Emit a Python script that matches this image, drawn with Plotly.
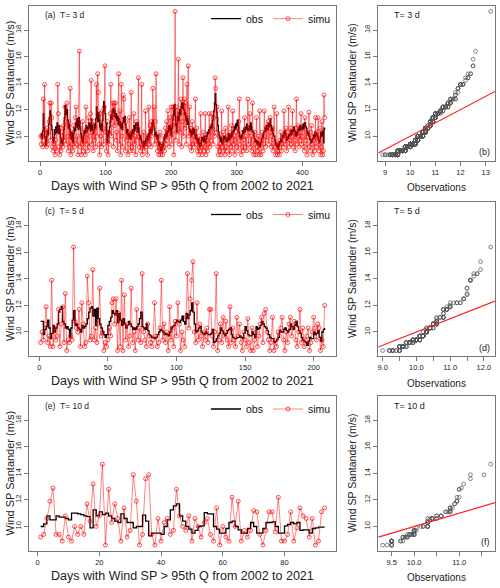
import numpy as np
import plotly.graph_objects as go

# ---------------- data (m/s) ----------------
obs_a = [
 10.0, 10.2, 9.8, 10.4, 11.7, 10.6, 9.9, 9.3, 9.6, 10.0, 10.4, 10.1, 10.9, 11.4, 11.9, 11.6, 10.8, 10.5, 9.9, 9.5,
 9.8, 10.5, 10.2, 10.7, 10.3, 11.0, 10.6, 10.2, 10.8, 10.4, 9.9, 9.5, 9.7, 9.4, 9.8, 10.5, 11.4, 12.3, 12.1, 11.6,
 12.0, 11.2, 10.6, 10.9, 10.5, 10.1, 9.8, 10.3, 9.7, 9.5, 10.2, 10.6, 10.4, 11.0, 10.7, 11.3, 10.8, 10.5, 11.4, 11.1,
 10.6, 10.2, 9.9, 9.6, 9.5, 10.0, 10.4, 10.2, 10.6, 10.8, 10.3, 10.7, 10.5, 11.0, 10.6, 10.9, 10.4, 11.3, 10.8, 10.5,
 10.2, 10.5, 10.9, 10.6, 11.3, 12.2, 11.6, 11.1, 11.8, 11.2, 10.7, 10.5, 10.9, 10.4, 11.2, 11.9, 12.6, 12.3, 11.7, 11.0,
 10.2, 9.5, 9.9, 10.4, 10.2, 10.7, 11.1, 11.6, 11.3, 12.0, 11.8, 12.1, 11.5, 11.9, 11.4, 11.7, 11.2, 11.5, 10.9, 11.3,
 10.8, 11.1, 10.6, 10.9, 10.5, 11.0, 11.4, 11.1, 11.5, 10.9, 10.6, 10.2, 10.5, 10.0, 10.2, 9.8, 10.1, 9.8, 10.3, 10.0,
 10.5, 10.2, 10.8, 10.4, 10.6, 11.0, 10.7, 10.3, 11.0, 10.6, 10.1, 9.8, 10.0, 9.7, 9.5, 9.4, 9.2, 9.6, 9.3, 9.5,
 9.8, 9.5, 10.0, 9.7, 10.2, 9.9, 10.5, 10.2, 10.6, 10.3, 11.0, 11.2, 10.8, 10.5, 10.0, 10.3, 10.0, 9.8, 10.1, 9.6,
 9.3, 9.5, 9.1, 8.9, 9.0, 9.4, 9.2, 9.6, 9.8, 10.1, 9.9, 10.3, 10.0, 10.4, 10.3, 10.8, 10.5, 10.8, 10.2, 10.0,
 10.6, 11.2, 11.6, 12.3, 12.4, 11.5, 10.8, 10.3, 10.9, 11.5, 11.2, 11.8, 12.0, 11.6, 12.2, 12.5, 12.1, 12.5, 12.0, 11.6,
 11.8, 11.2, 11.5, 10.9, 11.3, 11.0, 10.6, 10.3, 10.5, 10.0, 10.4, 10.1, 10.6, 10.2, 10.5, 10.0, 9.8, 10.1, 9.7, 9.5,
 9.8, 9.4, 9.2, 9.5, 9.3, 9.7, 9.9, 9.8, 9.6, 10.0, 9.7, 9.5, 9.8, 10.0, 10.3, 10.2, 10.5, 10.3, 10.7, 10.6,
 10.9, 10.6, 11.2, 11.5, 11.9, 12.5, 13.2, 12.4, 11.8, 11.4, 10.8, 10.3, 10.0, 9.8, 9.6, 9.9, 9.5, 9.4, 9.7, 10.0,
 9.8, 10.0, 9.6, 9.8, 9.6, 9.9, 10.2, 9.7, 9.8, 10.1, 9.9, 10.3, 10.0, 10.4, 10.3, 10.7, 10.5, 10.9, 10.6, 11.0,
 11.2, 10.8, 10.3, 10.0, 9.8, 9.8, 10.1, 9.9, 10.4, 10.2, 10.6, 10.3, 10.7, 10.5, 10.9, 10.6, 10.4, 10.4, 10.8, 10.5,
 11.0, 10.7, 10.4, 10.3, 10.3, 10.0, 9.8, 9.6, 9.7, 9.5, 9.4, 9.6, 9.3, 9.5, 9.2, 9.5, 9.6, 9.8, 10.1, 9.9,
 10.3, 10.3, 10.6, 10.4, 10.8, 10.8, 10.5, 11.0, 10.7, 11.0, 11.3, 10.8, 10.4, 10.6, 10.2, 10.0, 10.0, 9.7, 9.5, 9.3,
 9.2, 9.4, 9.0, 9.3, 9.6, 9.5, 9.8, 9.6, 10.0, 10.1, 9.9, 10.3, 10.4, 10.2, 10.0, 9.7, 9.9, 9.8, 10.1, 10.0,
 10.2, 10.4, 10.1, 10.5, 10.3, 10.5, 10.7, 10.4, 10.0, 10.0, 10.3, 10.1, 10.5, 10.6, 10.4, 10.8, 10.8, 10.5, 10.7, 10.5,
 10.9, 10.6, 11.0, 11.0, 10.7, 10.6, 10.3, 10.1, 10.3, 10.0, 9.8, 9.7, 9.5, 9.6, 9.8, 9.8, 10.1, 9.9, 10.3, 10.3,
 10.0, 10.2, 10.0, 9.7, 9.5, 9.6, 9.9, 10.3, 10.0, 10.2, 10.4, 9.5, 10.6, 10.5,
]
simu_a = [
 10.0, 9.4, 10.0, 9.2, 12.8, 10.3, 13.9, 9.4, 10.0, 9.2, 10.6, 9.4, 10.3, 11.1, 12.5, 9.7, 12.5, 11.4, 9.2, 8.9,
 9.4, 10.0, 8.6, 9.7, 8.9, 10.3, 13.9, 11.7, 9.2, 8.6, 10.6, 8.9, 9.4, 10.3, 9.2, 10.8, 9.7, 12.2, 11.1, 9.4,
 12.5, 10.0, 8.9, 11.1, 9.2, 13.6, 8.6, 10.3, 9.4, 8.9, 10.8, 9.7, 9.2, 11.4, 12.2, 9.4, 10.0, 8.6, 11.1, 16.4,
 9.2, 10.6, 8.6, 9.4, 11.1, 8.9, 10.0, 9.7, 8.6, 12.2, 9.4, 10.6, 8.9, 11.4, 9.2, 10.0, 11.7, 14.2, 9.4, 10.3,
 8.9, 11.1, 9.7, 10.6, 9.2, 13.9, 10.0, 14.7, 13.3, 9.4, 8.6, 11.7, 10.0, 9.2, 11.9, 10.6, 9.4, 12.2, 15.3, 10.3,
 8.9, 9.7, 11.1, 8.6, 10.3, 9.4, 11.7, 13.9, 10.0, 11.4, 12.5, 9.2, 12.5, 10.8, 12.5, 9.7, 10.3, 8.9, 11.1, 14.7,
 9.4, 11.9, 8.6, 13.9, 10.0, 9.2, 13.1, 12.8, 10.6, 8.9, 11.1, 9.7, 10.3, 8.6, 9.4, 11.4, 10.0, 8.9, 13.3, 9.2,
 10.3, 8.9, 11.7, 9.4, 10.0, 8.6, 11.1, 9.7, 10.6, 14.4, 9.2, 10.0, 8.9, 9.4, 13.9, 8.6, 9.2, 10.3, 8.9, 9.4,
 11.9, 9.2, 10.0, 8.6, 9.7, 12.2, 9.4, 10.8, 9.2, 11.1, 10.0, 13.6, 10.6, 12.2, 9.4, 11.1, 14.7, 9.7, 8.9, 10.0,
 8.6, 9.2, 10.3, 8.6, 8.9, 9.4, 8.6, 10.0, 9.2, 8.9, 10.6, 9.4, 11.1, 9.7, 11.9, 10.3, 9.2, 11.4, 10.0, 12.2,
 9.4, 10.8, 12.2, 8.6, 11.1, 19.4, 9.7, 10.3, 12.2, 10.6, 15.8, 9.4, 11.7, 10.3, 12.8, 9.2, 11.1, 14.4, 10.0, 12.8,
 10.6, 12.5, 9.4, 13.9, 11.4, 15.3, 10.0, 12.2, 9.2, 10.6, 8.9, 11.1, 9.4, 10.0, 9.2, 10.3, 12.8, 9.4, 10.6, 8.9,
 9.7, 8.6, 10.0, 8.9, 11.7, 9.2, 8.6, 9.4, 10.3, 8.9, 9.2, 11.7, 8.6, 9.7, 10.0, 8.9, 9.4, 11.7, 9.2, 10.3,
 9.7, 11.7, 10.6, 9.4, 11.4, 10.0, 14.4, 13.6, 10.3, 12.2, 9.2, 8.6, 10.0, 8.9, 9.4, 8.6, 11.9, 9.2, 10.3, 8.9,
 9.7, 8.6, 10.6, 9.2, 8.9, 10.0, 12.2, 9.4, 8.6, 10.3, 9.2, 10.8, 8.9, 11.9, 9.4, 10.0, 8.6, 9.7, 10.3, 9.2,
 10.6, 8.9, 11.1, 12.8, 9.4, 10.0, 8.6, 9.2, 10.3, 8.9, 9.7, 11.4, 9.2, 10.0, 8.9, 10.6, 12.8, 9.4, 10.3, 11.7,
 9.2, 10.0, 8.9, 12.5, 9.7, 8.6, 10.3, 9.4, 8.6, 11.4, 9.2, 8.9, 10.0, 8.6, 11.9, 9.4, 8.6, 9.7, 10.3, 8.9,
 9.4, 11.9, 10.0, 9.2, 10.6, 9.7, 10.8, 11.1, 9.4, 10.3, 11.4, 10.0, 9.2, 10.6, 8.9, 9.7, 12.2, 9.2, 8.6, 9.4,
 11.7, 8.6, 8.9, 9.4, 8.6, 9.7, 10.3, 8.9, 9.4, 10.0, 9.2, 11.9, 10.0, 9.4, 10.6, 8.9, 9.7, 10.3, 12.2, 9.2,
 9.7, 10.6, 9.4, 10.0, 11.9, 9.2, 10.3, 9.7, 8.9, 10.6, 12.8, 9.4, 10.0, 10.8, 9.2, 10.3, 9.7, 11.7, 9.4, 10.0,
 10.6, 9.2, 8.9, 11.4, 9.7, 10.3, 8.6, 9.4, 10.0, 11.8, 9.2, 8.9, 10.3, 10.8, 9.4, 8.6, 9.7, 10.0, 8.9, 11.4,
 9.2, 10.3, 9.7, 11.4, 8.9, 9.4, 10.6, 8.6, 9.2, 11.1, 8.6, 8.9, 13.1, 11.4,
]
obs_c = [
 10.8, 10.8, 9.8, 10.2, 10.4, 10.9, 10.3, 9.5, 9.9, 10.5, 10.0, 10.3, 10.6, 11.5, 11.7, 11.9, 10.8, 10.6, 10.3, 10.4,
 10.2, 9.6, 10.3, 10.9, 11.6, 10.5, 10.6, 10.3, 10.2, 10.0, 10.5, 10.3, 10.4, 10.6, 11.0, 11.5, 11.8, 11.9, 11.2, 11.7,
 10.5, 11.8, 11.0, 10.6, 10.3, 10.0, 9.8, 9.6, 9.8, 10.5, 10.8, 11.1, 11.6, 11.4, 11.3, 11.6, 10.7, 11.4, 10.9, 10.5,
 11.0, 10.6, 10.3, 10.5, 10.8, 10.6, 10.4, 10.2, 10.3, 10.2, 10.4, 10.6, 11.0, 11.5, 10.4, 10.3, 10.2, 10.6, 10.1, 9.8,
 9.7, 9.6, 9.6, 9.5, 9.6, 9.8, 10.0, 10.2, 10.1, 10.0, 9.8, 9.9, 9.8, 9.7, 10.0, 10.3, 10.4, 10.5, 10.7, 10.9,
 10.8, 10.7, 10.9, 11.2, 10.8, 10.6, 11.4, 11.0, 11.3, 11.6, 12.2, 11.5, 10.6, 10.0, 10.1, 10.3, 10.4, 10.0, 9.9, 9.8,
 10.0, 9.9, 9.8, 9.8, 9.9, 10.2, 9.2, 9.3, 9.5, 9.7, 9.9, 10.3, 10.1, 9.9, 9.7, 9.9, 10.1, 10.2, 10.3, 9.8,
 9.6, 9.5, 9.5, 9.6, 9.6, 9.7, 9.6, 9.5, 9.9, 10.4, 10.1, 9.8, 9.7, 9.7, 10.0, 9.8, 9.6, 10.4, 10.2, 10.3,
 10.5, 10.8, 10.6, 10.4, 10.3, 10.1, 9.8, 9.6, 9.5, 9.5, 9.2, 9.3, 9.4, 9.6, 10.1, 10.0, 10.0, 10.2, 10.3, 10.1,
 10.0, 10.2, 10.6, 10.4, 10.2, 10.5, 10.8, 10.4, 10.1, 9.9, 9.6, 9.4, 9.3, 9.2, 9.0, 9.3, 9.6, 9.5, 9.5, 10.0,
 9.8, 9.9, 10.1, 9.6, 9.3, 10.0, 10.2, 10.3,
]
simu_c = [
 9.2, 10.0, 9.4, 10.6, 11.9, 9.2, 9.7, 8.9, 13.9, 8.9, 10.3, 9.4, 9.7, 11.7, 8.9, 10.6, 11.9, 9.2, 12.9, 8.6,
 9.4, 9.2, 9.7, 9.4, 16.4, 10.8, 10.3, 10.0, 11.7, 8.9, 12.2, 10.6, 8.9, 9.2, 14.2, 12.2, 9.4, 9.7, 14.7, 9.4,
 10.3, 9.2, 10.6, 13.3, 9.7, 10.0, 8.6, 9.2, 8.9, 9.4, 10.3, 9.7, 12.2, 12.5, 10.6, 12.5, 8.6, 11.4, 8.9, 13.9,
 8.6, 12.8, 9.4, 10.6, 8.9, 9.7, 13.3, 9.2, 10.0, 8.6, 11.7, 9.4, 10.3, 9.2, 14.4, 10.0, 9.4, 8.9, 10.6, 9.7,
 9.2, 8.9, 9.4, 12.2, 9.7, 8.9, 9.2, 10.3, 13.9, 9.4, 10.6, 9.2, 10.0, 8.6, 11.9, 9.4, 10.3, 8.9, 10.8, 9.7,
 12.2, 10.6, 8.6, 10.0, 9.4, 8.9, 11.1, 14.4, 10.3, 12.5, 13.9, 15.3, 10.0, 9.2, 12.2, 9.4, 10.6, 9.7, 8.9, 10.0,
 9.4, 10.3, 9.2, 11.7, 11.7, 9.7, 8.9, 10.0, 14.4, 8.6, 9.4, 10.6, 9.2, 11.1, 9.7, 10.8, 9.4, 8.9, 11.9, 9.2,
 10.3, 9.4, 8.9, 11.1, 9.7, 10.6, 9.2, 8.6, 10.0, 9.4, 8.9, 11.0, 9.2, 8.6, 10.3, 8.6, 9.4, 10.0, 8.9, 9.7,
 10.6, 11.1, 9.2, 11.4, 11.7, 10.0, 9.4, 8.6, 9.2, 11.1, 8.6, 9.4, 8.9, 10.0, 9.7, 10.3, 11.1, 9.4, 8.6, 10.0,
 9.2, 10.6, 11.1, 9.7, 10.3, 10.8, 9.4, 8.9, 10.0, 11.7, 9.2, 10.3, 8.9, 9.4, 9.7, 10.3, 8.6, 9.2, 10.0, 11.1,
 10.3, 9.4, 10.6, 10.3, 8.6, 9.4, 8.9, 12.0,
]
obs_e = [
 10.0, 10.2, 10.8, 10.5, 10.5, 10.8, 10.7, 10.7, 10.6, 10.5,
 11.0, 11.0, 10.95, 10.9, 10.8, 10.75, 9.9, 11.25, 10.8, 11.1,
 10.9, 11.0, 10.8, 10.6, 10.4, 10.3, 10.95, 10.6, 10.3, 10.3,
 9.9, 10.0, 10.0, 10.85, 10.4, 9.3, 9.5, 9.5, 9.5, 9.4,
 10.0, 10.5, 11.25, 11.55, 11.7, 10.8, 10.4, 10.0, 9.8, 9.5,
 9.7, 10.0, 10.05, 11.05, 10.95, 10.95, 10.0, 9.8, 9.5, 9.5,
 9.85, 10.3, 10.4, 10.0, 9.75, 9.5, 9.5, 9.85, 10.3, 10.0,
 9.5, 9.5, 9.85, 10.3, 10.3, 10.35, 10.0, 9.5, 9.5, 10.05,
 10.15, 10.3, 10.2, 10.3, 9.7, 9.75, 9.75, 9.5, 9.85, 9.9,
 9.95, 9.95, 9.95,
]
simu_e = [
 9.2, 9.4, 10.6, 11.9, 12.9, 9.4, 9.4, 8.9, 10.8, 9.2,
 8.9, 10.0, 9.4, 10.0, 9.4, 11.7, 10.4, 13.2, 10.0, 10.8,
 14.7, 8.6, 12.8, 10.3, 11.7, 10.6, 8.9, 11.4, 9.2, 9.7,
 13.9, 11.9, 8.6, 9.4, 13.6, 13.9, 9.4, 8.6, 10.6, 8.9,
 10.3, 10.6, 9.4, 9.7, 12.8, 10.8, 10.0, 9.7, 10.8, 8.9,
 10.6, 10.0, 9.2, 10.3, 10.6, 9.4, 8.9, 11.4, 8.6, 10.0,
 9.2, 8.9, 12.2, 10.0, 11.9, 8.9, 9.7, 9.2, 9.7, 11.2,
 11.1, 9.4, 8.6, 9.7, 11.1, 11.1, 9.6, 12.2, 8.9, 8.9,
 9.4, 11.1, 8.9, 9.9, 11.4, 10.8, 10.6, 9.2, 10.6, 8.6,
 8.9, 11.1, 11.4,
]

obs_series = [obs_a, obs_c, obs_e]
simu_series = [simu_a, simu_c, simu_e]
left_tags = ["(a)", "(c)", "(e)"]
right_tags = ["(b)", "(d)", "(f)"]
durations = ["T= 3 d", "T= 5 d", "T= 10 d"]
x_title = "Days with Wind SP > 95th Q from 2002 to 2021"
y_title = "Wind SP Santander (m/s)"
qq_title = "Observations"
y_tick_vals = [10, 12, 14, 16, 18]
left_dticks = [100, 50, 20]
right_tick_vals = [[9, 10, 11, 12, 13],
                   [9.0, 9.5, 10.0, 10.5, 11.0, 11.5, 12.0],
                   [9.5, 10.0, 10.5, 11.0, 11.5]]
right_tick_text = [["9", "10", "11", "12", "13"],
                   ["9.0", "", "10.0", "", "11.0", "", "12.0"],
                   ["9.5", "10.0", "", "11.0", ""]]

for o, s in zip(obs_series, simu_series):
    assert len(o) == len(s), (len(o), len(s))

# ---------------- layout geometry (pixels) ----------------
W, H = 500, 588
row_top = [5.7, 201.5, 396.0]
row_h = 154.8
left_x = (29.3, 336.0)
right_x = (378.3, 495.0)
FONT = "Liberation Sans, Arial, sans-serif"
BOX = "#777777"

def px_x(p):
    return p / W

def px_y(p):
    return 1 - p / H

allv = [v for s in simu_series for v in s]
ymin, ymax = min(allv), max(allv)
ypad = 0.04 * (ymax - ymin)
yrange = [ymin - ypad, ymax + ypad]

fig = go.Figure()
layout = dict(width=W, height=H, margin=dict(l=0, r=0, t=0, b=0),
              paper_bgcolor="white", plot_bgcolor="white",
              font=dict(family=FONT, color="#222222"), annotations=[])

def axis_common():
    return dict(showgrid=False, zeroline=False, showline=True, mirror=True,
                linecolor=BOX, linewidth=1, ticks="outside", ticklen=4,
                tickcolor=BOX, tickwidth=1,
                tickfont=dict(size=7.5, family=FONT, color="#222222"))

for r in range(3):
    obs = np.array(obs_series[r])
    sim = np.array(simu_series[r])
    n = len(obs)
    days = np.arange(1, n + 1)
    top = row_top[r]
    bot = top + row_h
    ydom = [px_y(bot), px_y(top)]
    li = 2 * r + 1
    ri = 2 * r + 2
    lx = "x" if li == 1 else f"x{li}"
    ly = "y" if li == 1 else f"y{li}"
    rx, ry = f"x{ri}", f"y{ri}"
    leg = "legend" if r == 0 else f"legend{r + 1}"

    # time series panel
    fig.add_trace(go.Scatter(x=days, y=obs, mode="lines", name="obs",
                             line=dict(color="black", width=1.3, shape="hv"),
                             xaxis=lx, yaxis=ly, legend=leg))
    fig.add_trace(go.Scatter(x=days, y=sim, mode="lines+markers", name="simu",
                             line=dict(color="rgba(255,0,0,0.55)", width=0.9),
                             marker=dict(symbol="circle-open", size=4, color="rgba(255,0,0,0.85)",
                                         line=dict(width=0.8)),
                             xaxis=lx, yaxis=ly, legend=leg))
    # QQ panel
    qx = np.sort(obs)
    qy = np.sort(sim)
    xpad = 0.04 * (qx.max() - qx.min())
    xr = [qx.min() - xpad, qx.max() + xpad]
    fig.add_trace(go.Scatter(x=qx, y=qy, mode="markers", showlegend=False,
                             marker=dict(symbol="circle-open", size=3.8, color="#555555",
                                         line=dict(width=0.7)),
                             xaxis=rx, yaxis=ry))
    fig.add_trace(go.Scatter(x=xr, y=xr, mode="lines", showlegend=False,
                             line=dict(color="#ff2020", width=1.2),
                             xaxis=rx, yaxis=ry))

    xpad_l = 0.04 * (n - 1)
    ax = axis_common()
    ax.update(domain=[px_x(left_x[0]), px_x(left_x[1])], anchor=ly,
              range=[1 - xpad_l, n + xpad_l], tick0=0, dtick=left_dticks[r])
    layout["xaxis" if li == 1 else f"xaxis{li}"] = ax
    ay = axis_common()
    ay.update(domain=ydom, anchor=lx, range=yrange, tickvals=y_tick_vals, tickangle=-90)
    layout["yaxis" if li == 1 else f"yaxis{li}"] = ay

    ax2 = axis_common()
    ax2.update(domain=[px_x(right_x[0]), px_x(right_x[1])], anchor=ry, range=xr,
               tickvals=right_tick_vals[r], ticktext=right_tick_text[r])
    layout[f"xaxis{ri}"] = ax2
    ay2 = axis_common()
    ay2.update(domain=ydom, anchor=rx, range=yrange, tickvals=y_tick_vals, tickangle=-90)
    layout[f"yaxis{ri}"] = ay2

    layout[leg] = dict(orientation="h", x=px_x(336), xanchor="right",
                       y=px_y(top + 13), yanchor="middle",
                       bgcolor="rgba(0,0,0,0)", borderwidth=0,
                       font=dict(size=10.5, family=FONT, color="#111111"),
                       itemwidth=30, tracegroupgap=0)

    ann = layout["annotations"]
    ymid = (top + bot) / 2
    ann.append(dict(text=y_title, textangle=-90, x=px_x(10), y=px_y(ymid),
                    xref="paper", yref="paper", showarrow=False,
                    xanchor="center", yanchor="middle", font=dict(size=11)))
    ann.append(dict(text=y_title, textangle=-90, x=px_x(352), y=px_y(ymid),
                    xref="paper", yref="paper", showarrow=False,
                    xanchor="center", yanchor="middle", font=dict(size=10.5)))
    ann.append(dict(text=x_title, x=px_x((left_x[0] + left_x[1]) / 2), y=px_y(bot + 25),
                    xref="paper", yref="paper", showarrow=False,
                    xanchor="center", yanchor="middle", font=dict(size=12.5)))
    ann.append(dict(text=qq_title, x=px_x((right_x[0] + right_x[1]) / 2), y=px_y(bot + 27),
                    xref="paper", yref="paper", showarrow=False,
                    xanchor="center", yanchor="middle", font=dict(size=10)))
    ann.append(dict(text=f"{left_tags[r]}  {durations[r]}", x=px_x(43), y=px_y(top + 9.5),
                    xref="paper", yref="paper", showarrow=False,
                    xanchor="left", yanchor="middle", font=dict(size=8.5)))
    ann.append(dict(text=durations[r], x=px_x(392), y=px_y(top + 9.5),
                    xref="paper", yref="paper", showarrow=False,
                    xanchor="left", yanchor="middle", font=dict(size=9)))
    ann.append(dict(text=right_tags[r], x=px_x(492), y=px_y(bot - 8.5),
                    xref="paper", yref="paper", showarrow=False,
                    xanchor="right", yanchor="middle", font=dict(size=9)))

fig.update_layout(**layout)
fig.write_html("out.html")
